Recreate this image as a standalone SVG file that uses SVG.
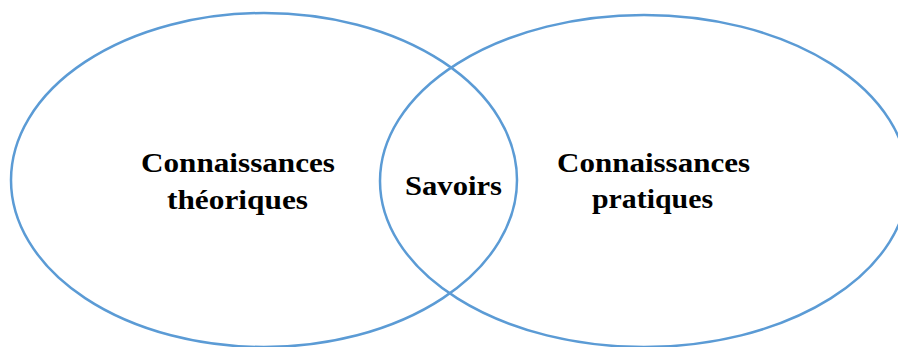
<svg xmlns="http://www.w3.org/2000/svg" width="898" height="347" viewBox="0 0 898 347">
<style>
.ring{fill:none;stroke:#5B9BD5;stroke-width:2.5}
.lbl{font-family:"Liberation Serif","DejaVu Serif",serif;font-weight:bold;font-size:28px;fill:#000;text-anchor:middle}
</style>
<rect width="898" height="347" fill="#fff"/>
<g id="theory">
<ellipse class="ring" cx="264" cy="180" rx="253" ry="167"/>
<text class="lbl" x="238" y="172" textLength="194" lengthAdjust="spacingAndGlyphs">Connaissances</text>
<text class="lbl" x="237.5" y="209" textLength="141" lengthAdjust="spacingAndGlyphs">théoriques</text>
</g>
<g id="practice">
<ellipse class="ring" cx="644" cy="181" rx="264" ry="166"/>
<text class="lbl" x="653.5" y="172" textLength="193" lengthAdjust="spacingAndGlyphs">Connaissances</text>
<text class="lbl" x="652.5" y="208" textLength="121" lengthAdjust="spacingAndGlyphs">pratiques</text>
</g>
<g id="savoirs">
<text class="lbl" x="453.5" y="195" textLength="97" lengthAdjust="spacingAndGlyphs">Savoirs</text>
</g>
<g id="connectors"/>
</svg>
